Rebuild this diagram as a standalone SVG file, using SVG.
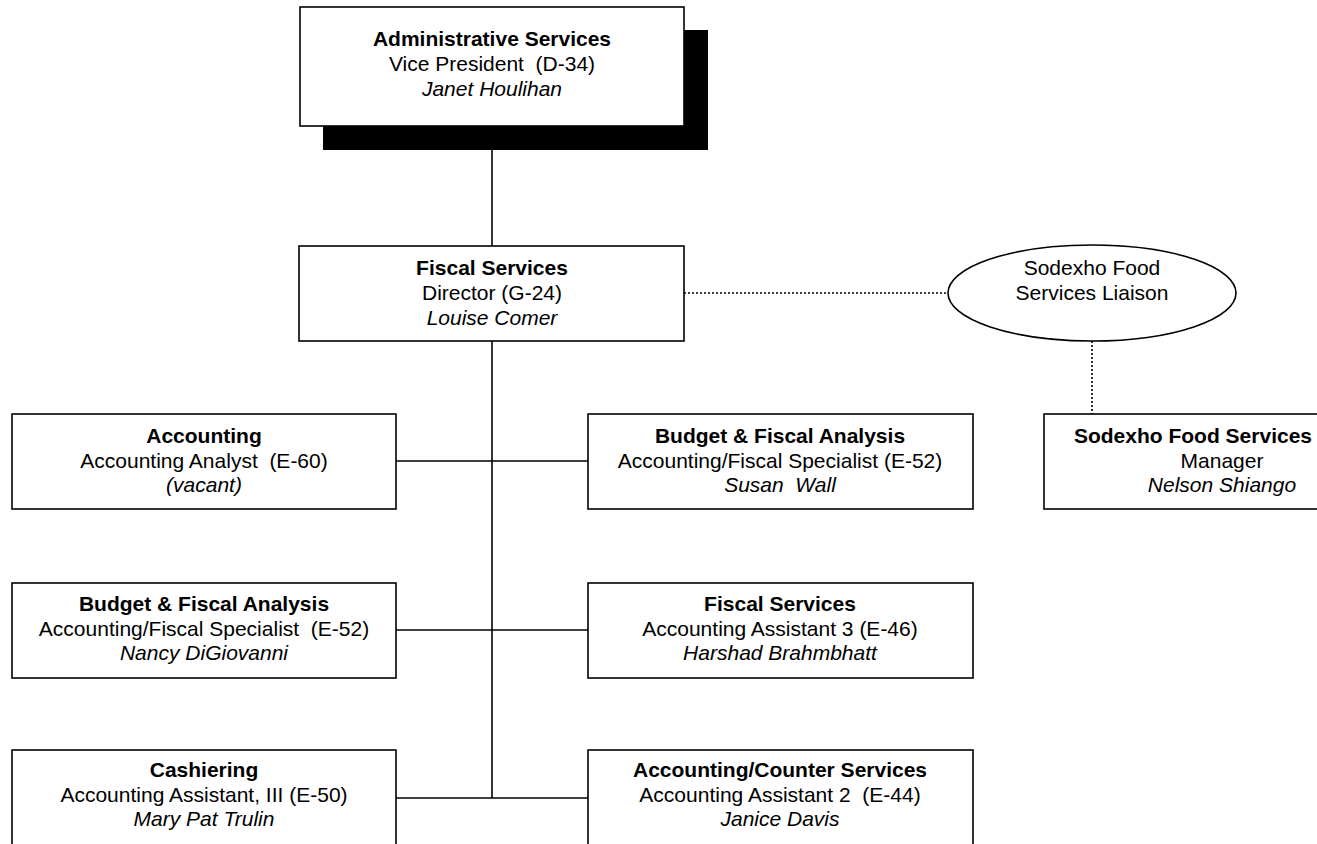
<svg xmlns="http://www.w3.org/2000/svg" width="1317" height="844" viewBox="0 0 1317 844">
<style>
.box{fill:#fff;stroke:#000;stroke-width:1.6}
.ln{stroke:#000;stroke-width:1.6;fill:none}
.dot{stroke:#000;stroke-width:1.6;fill:none;stroke-dasharray:2 2}
text{font-family:"Liberation Sans",Arial,sans-serif;font-size:21px;fill:#000;text-anchor:middle}
.b{font-weight:bold}
.i{font-style:italic}
</style>
<rect width="1317" height="844" fill="#fff"/>
<g id="connectors">
<line class="ln" x1="492" y1="126" x2="492" y2="246"/>
<line class="ln" x1="492" y1="341" x2="492" y2="798"/>
<line class="ln" x1="396" y1="461" x2="588" y2="461"/>
<line class="ln" x1="396" y1="630" x2="588" y2="630"/>
<line class="ln" x1="396" y1="798" x2="588" y2="798"/>
<line class="dot" x1="684" y1="293" x2="948" y2="293"/>
<line class="dot" x1="1092" y1="341" x2="1092" y2="414"/>
</g>
<g id="admin">
<rect x="323" y="30" width="385" height="120" fill="#000"/>
<rect class="box" x="300" y="7" width="384" height="119"/>
<text class="b" x="492" y="46">Administrative Services</text>
<text x="492" y="71" xml:space="preserve">Vice President  (D-34)</text>
<text class="i" x="492" y="96">Janet Houlihan</text>
</g>
<g id="fiscal">
<rect class="box" x="299" y="246" width="385" height="95"/>
<text class="b" x="492" y="275">Fiscal Services</text>
<text x="492" y="300">Director (G-24)</text>
<text class="i" x="492" y="325">Louise Comer</text>
</g>
<g id="liaison">
<ellipse class="box" cx="1092" cy="293" rx="144" ry="48"/>
<text x="1092" y="275">Sodexho Food</text>
<text x="1092" y="300">Services Liaison</text>
</g>
<g id="sodexho">
<rect class="box" x="1044" y="414" width="385" height="95"/>
<text class="b" x="1193" y="443">Sodexho Food Services</text>
<text x="1222" y="468">Manager</text>
<text class="i" x="1222" y="492">Nelson Shiango</text>
</g>
<g id="accounting">
<rect class="box" x="12" y="414" width="384" height="95"/>
<text class="b" x="204" y="443">Accounting</text>
<text x="204" y="468" xml:space="preserve">Accounting Analyst  (E-60)</text>
<text class="i" x="204" y="492">(vacant)</text>
</g>
<g id="budget1">
<rect class="box" x="588" y="414" width="385" height="95"/>
<text class="b" x="780" y="443">Budget &amp; Fiscal Analysis</text>
<text x="780" y="468">Accounting/Fiscal Specialist (E-52)</text>
<text class="i" x="780" y="492" xml:space="preserve">Susan  Wall</text>
</g>
<g id="budget2">
<rect class="box" x="12" y="583" width="384" height="95"/>
<text class="b" x="204" y="611">Budget &amp; Fiscal Analysis</text>
<text x="204" y="636" xml:space="preserve">Accounting/Fiscal Specialist  (E-52)</text>
<text class="i" x="204" y="660">Nancy DiGiovanni</text>
</g>
<g id="fiscal2">
<rect class="box" x="588" y="583" width="385" height="95"/>
<text class="b" x="780" y="611">Fiscal Services</text>
<text x="780" y="636">Accounting Assistant 3 (E-46)</text>
<text class="i" x="780" y="660">Harshad Brahmbhatt</text>
</g>
<g id="cashiering">
<rect class="box" x="12" y="750" width="384" height="110"/>
<text class="b" x="204" y="777">Cashiering</text>
<text x="204" y="802">Accounting Assistant, III (E-50)</text>
<text class="i" x="204" y="826">Mary Pat Trulin</text>
</g>
<g id="counter">
<rect class="box" x="588" y="750" width="385" height="110"/>
<text class="b" x="780" y="777">Accounting/Counter Services</text>
<text x="780" y="802" xml:space="preserve">Accounting Assistant 2  (E-44)</text>
<text class="i" x="780" y="826">Janice Davis</text>
</g>
</svg>
